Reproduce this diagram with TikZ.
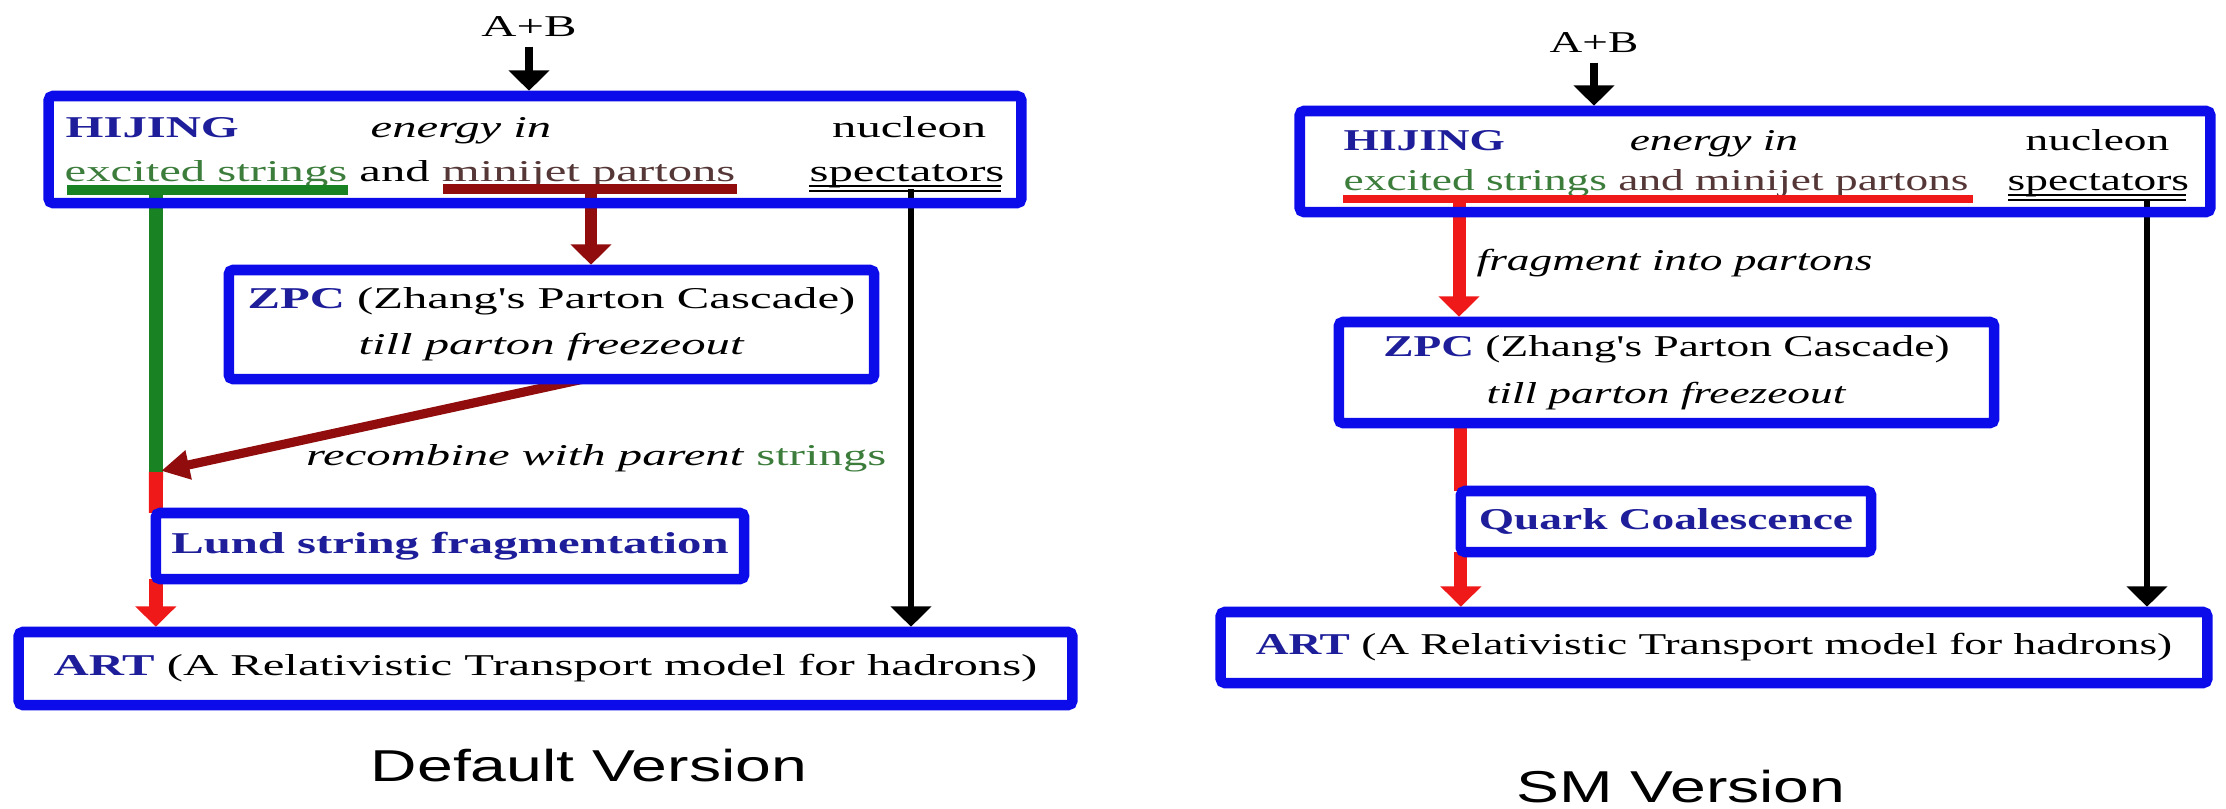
\documentclass[tikz,border=0pt]{standalone}
\usepackage{fontspec}
\newfontfamily\wideserif{Liberation Serif}[FakeStretch=1.61]
\newfontfamily\narrowserif{Liberation Serif}[FakeStretch=1.5]
\newfontfamily\versionsans{Liberation Sans}[FakeStretch=1.44]
\usetikzlibrary{arrows.meta}
\pgfdeclarelayer{back}
\pgfsetlayers{back,main}
\definecolor{boxblue}{RGB}{12,12,235}
\definecolor{nameblue}{RGB}{30,30,155}
\definecolor{strgreen}{RGB}{25,130,35}
\definecolor{strtext}{RGB}{60,125,60}
\definecolor{jetred}{RGB}{145,12,12}
\definecolor{jettext}{RGB}{85,55,55}
\definecolor{fragred}{RGB}{240,25,25}

\begin{document}
\begin{tikzpicture}[x=0.01cm,y=-0.01cm,inner sep=0pt,
  font=\wideserif\fontsize{8.6pt}{13.1pt}\selectfont,
  box/.style={draw=boxblue,line width=3pt,rounded corners=1.2pt,outer sep=0pt,align=center},
  headed/.style={-{Triangle[width=11.4pt,length=5.8pt]},shorten >=1.5pt},
  feed/.style={line width=2pt,headed},
  spec/.style={line width=1.8pt,headed},
  jet/.style={jetred,line width=3.4pt,headed},
  frag/.style={fragred,line width=4pt},
  versionlabel/.style={font=\versionsans\fontsize{12.7pt}{15pt}\selectfont,anchor=base}]
\useasboundingbox (0,0) rectangle (2226,808);

% default version
\node[inner sep=2.5pt] (abL) at (529,27) {A+B};
\node[box,minimum width=9.72cm,minimum height=1.07cm] (hijL) at (535,149.5) {};
\node[anchor=base west] (nameL) at (65,137) {\textcolor{nameblue}{\textbf{HIJING}}};
\node[anchor=base] (enL) at (461,137) {\textit{energy in}};
\node[anchor=base east] (nucL) at (987,137) {nucleon};
\node[anchor=base west] (srcL) at (64,181) {\textcolor{strtext}{excited strings} and \textcolor{jettext}{minijet partons}};
\node[anchor=base west] (specL) at (809,181) {spectators};
\draw[strgreen,line width=2.6pt] (67,190) -- (348,190);
\draw[jetred,line width=2.6pt] (443,189) -- (737,189);
\draw[line width=0.6pt] (809,186) -- (1001,186) (809,191) -- (1001,191);

\node[box,minimum width=6.45cm,minimum height=1.09cm] (zpcL) at (551.5,324.5)
  {\textcolor{nameblue}{\textbf{ZPC}} (Zhang's Parton Cascade)\\\textit{till parton freezeout}};
\node[anchor=base east] (recL) at (887,465) {\textit{recombine with parent} \textcolor{strtext}{strings}};
\node[box,minimum width=5.88cm,minimum height=0.66cm] (lundL) at (450,546)
  {\textcolor{nameblue}{\textbf{Lund string fragmentation}}};
\node[box,minimum width=10.53cm,minimum height=0.73cm] (artL) at (545.5,668.5)
  {\textcolor{nameblue}{\textbf{ART}} (A Relativistic Transport model for hadrons)};
\node[versionlabel] (defL) at (589,781) {Default Version};

\coordinate (exL) at (156,190);
\coordinate (mixL) at (156,472);
\coordinate (jetL) at (591,189);
\coordinate (specbarL) at (911,189);

\begin{pgfonlayer}{back}
\draw[feed] (abL) -- (abL |- hijL.north);
\draw[strgreen,line width=4pt] (exL) -- (mixL);
\draw[jet] (jetL) -- (jetL |- zpcL.north);
\draw[jet,line width=2.6pt,-{Triangle[width=8pt,length=8pt]}] ([xshift=0.32cm]zpcL.south) -- (mixL);
\draw[frag] (mixL) -- (lundL.north west);
\draw[frag,headed] (lundL.south west) -- (lundL.south west |- artL.north);
\draw[spec] (specbarL) -- (specbarL |- artL.north);
\end{pgfonlayer}

% string melting version
\begin{scope}[font=\narrowserif\fontsize{8.6pt}{13.4pt}\selectfont]
\node[inner sep=2.5pt] (abR) at (1594,43) {A+B};
\node[box,minimum width=9.10cm,minimum height=1.01cm] (hijR) at (1755,161.5) {};
\node[anchor=base west] (nameR) at (1343,150) {\textcolor{nameblue}{\textbf{HIJING}}};
\node[anchor=base] (enR) at (1714,150) {\textit{energy in}};
\node[anchor=base east] (nucR) at (2170,150) {nucleon};
\node[anchor=base west] (srcR) at (1343,190) {\textcolor{strtext}{excited strings} \textcolor{jettext}{and minijet partons}};
\node[anchor=base west] (specR) at (2007,190) {spectators};
\draw[fragred,line width=2.3pt] (1343,199) -- (1973,199);
\draw[line width=0.6pt] (2008,195) -- (2186,195) (2008,200) -- (2186,200);

\node[anchor=base west] (fragtxt) at (1476,270) {\textit{fragment into partons}};
\node[box,minimum width=6.55cm,minimum height=1.01cm] (zpcR) at (1666.5,372.5)
  {\textcolor{nameblue}{\textbf{ZPC}} (Zhang's Parton Cascade)\\\textit{till parton freezeout}};
\node[box,minimum width=4.10cm,minimum height=0.61cm] (quarkR) at (1666,521.5)
  {\textcolor{nameblue}{\textbf{Quark Coalescence}}};
\node[box,minimum width=9.86cm,minimum height=0.71cm] (artR) at (1714,647.5)
  {\textcolor{nameblue}{\textbf{ART}} (A Relativistic Transport model for hadrons)};
\end{scope}
\node[versionlabel] (smR) at (1681,802) {SM Version};

\coordinate (fragR) at (1459,199);
\coordinate (specbarR) at (2147,199);

\begin{pgfonlayer}{back}
\draw[feed] (abR) -- (abR |- hijR.north);
\draw[frag,line width=3.7pt,headed] (fragR) -- (fragR |- zpcR.north);
\draw[frag,line width=3.7pt] (quarkR.north west |- zpcR.south) -- (quarkR.north west);
\draw[frag,line width=3.7pt,headed] (quarkR.south west) -- (quarkR.south west |- artR.north);
\draw[spec] (specbarR) -- (specbarR |- artR.north);
\end{pgfonlayer}
\end{tikzpicture}
\end{document}
